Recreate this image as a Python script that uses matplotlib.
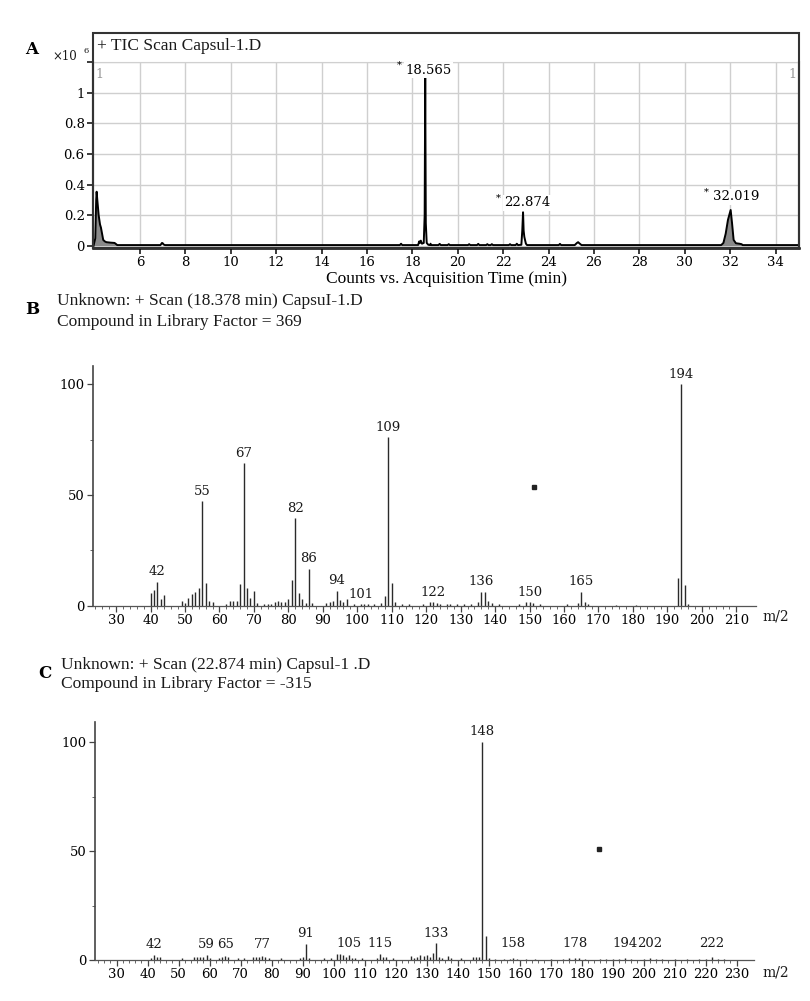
import matplotlib.pyplot as plt
import numpy as np
from matplotlib.patches import Rectangle

# ---- A: TIC chromatogram (x10^6 counts vs minutes)
tic_time = [3.95, 4.03, 4.07, 4.09, 4.12, 4.18, 4.24, 4.28, 4.33, 4.38, 4.45, 4.52, 4.7, 4.88, 4.95, 5.0,
            6.9, 6.97, 7.0, 7.04, 7.1,
            17.45, 17.5, 17.55,
            18.25, 18.3, 18.33, 18.37, 18.42, 18.5, 18.54, 18.565, 18.59, 18.63, 18.7,
            18.78, 18.8, 18.82, 19.15, 19.2, 19.25, 19.55, 19.6, 19.65,
            20.45, 20.5, 20.55, 20.85, 20.9, 20.95, 21.25, 21.3, 21.35, 21.45, 21.5, 21.55,
            22.25, 22.3, 22.35, 22.55, 22.6, 22.65, 22.8, 22.84, 22.874, 22.9, 22.93, 22.96, 23.0, 23.05,
            24.45, 24.5, 24.55, 25.15, 25.25, 25.3, 25.35, 25.45,
            31.6, 31.7, 31.8, 31.9, 32.019, 32.08, 32.15, 32.25, 32.4, 32.5, 32.55, 35.1]
tic_counts = [0.0, 0.05, 0.3, 0.354, 0.3, 0.2, 0.14, 0.12, 0.08, 0.04, 0.03, 0.025, 0.022, 0.02, 0.012, 0.006,
              0.006, 0.02, 0.018, 0.01, 0.006,
              0.006, 0.015, 0.006,
              0.006, 0.03, 0.02, 0.035, 0.015, 0.02, 0.2, 1.099, 0.15, 0.02, 0.008,
              0.006, 0.015, 0.006, 0.006, 0.014, 0.006, 0.006, 0.012, 0.006,
              0.006, 0.012, 0.006, 0.006, 0.014, 0.006, 0.006, 0.012, 0.006, 0.006, 0.012, 0.006,
              0.006, 0.012, 0.006, 0.006, 0.015, 0.006, 0.008, 0.1, 0.22, 0.1, 0.06, 0.04, 0.015, 0.006,
              0.006, 0.014, 0.006, 0.006, 0.02, 0.025, 0.018, 0.006,
              0.006, 0.02, 0.08, 0.17, 0.235, 0.15, 0.04, 0.018, 0.015, 0.012, 0.006, 0.006]
tic_peaks = ['18.565', '22.874', '32.019']
tic_peak_pos = [(18.72, 1.147), (23.08, 0.282), (32.26, 0.321)]

# ---- B: spectrum at 18.378 min
b_mz = [40, 41, 42, 43, 44, 49, 50, 51, 52, 53, 54, 55, 56, 57, 58, 62, 63, 64, 65, 66, 67, 68, 69, 70, 71,
        73, 74, 75, 76, 77, 78, 79, 80, 81, 82, 83, 84, 85, 86, 87, 91, 92, 93, 94, 95, 96, 97, 99,
        101, 102, 103, 105, 107, 108, 109, 110, 111, 113, 115, 119, 121, 122, 123, 124, 126, 127, 129,
        131, 133, 135, 136, 137, 138, 139, 141, 147, 149, 150, 151, 153, 161, 164, 165, 166, 167, 175,
        181, 193, 194, 195, 196]
b_int = [5.6, 7.1, 10.8, 3.0, 4.7, 2.3, 1.4, 3.6, 5.1, 6.3, 7.8, 47.3, 10.4, 2.3, 1.7, 0.8, 2.3, 2.3, 2.3, 9.8,
         64.4, 7.8, 3.3, 6.6, 1.0, 0.6, 0.8, 0.6, 1.5, 2.1, 1.5, 1.8, 3.0, 11.4, 39.7, 5.9, 2.9, 1.0, 16.7,
         1.0, 1.0, 1.5, 2.0, 6.8, 2.6, 1.8, 3.0, 0.8, 0.8, 0.6, 0.8, 0.6, 1.0, 4.4, 76.0, 10.4, 1.7, 0.6,
         0.8, 0.6, 1.5, 1.5, 1.2, 0.8, 0.8, 0.6, 0.8, 0.6, 0.8, 1.5, 6.4, 6.0, 2.0, 1.0, 0.6, 0.8, 1.5,
         1.5, 1.0, 0.6, 0.6, 1.0, 6.4, 1.5, 0.8, 0.5, 0.5, 12.6, 100.0, 9.5, 0.6]
b_labels = [42, 55, 67, 82, 86, 94, 101, 109, 122, 136, 150, 165, 194]
b_label_y = [12.3, 48.8, 65.9, 41.2, 18.2, 8.3, 2.3, 77.5, 3.0, 7.9, 3.0, 7.9, 101.5]

# ---- C: spectrum at 22.874 min
c_mz = [41, 42, 43, 44, 51, 55, 56, 57, 58, 59, 60, 63, 64, 65, 66, 69, 71, 74, 75, 76, 77, 78, 79, 83,
        89, 90, 91, 92, 97, 99, 101, 102, 103, 104, 105, 106, 107, 109, 114, 115, 116, 117, 119,
        125, 126, 127, 128, 129, 130, 131, 132, 133, 134, 135, 137, 138, 141, 145, 146, 147, 148, 149,
        150, 152, 155, 157, 158, 159, 162, 165, 170, 174, 176, 178, 179, 181, 186, 188, 190, 192, 194,
        196, 200, 202, 204, 206, 210, 214, 218, 220, 222, 224, 226]
c_int = [1.0, 2.5, 1.5, 1.2, 1.0, 1.2, 1.5, 1.5, 1.2, 2.5, 1.0, 1.0, 1.5, 2.0, 1.2, 1.0, 1.0, 1.2, 1.5, 1.5,
         2.0, 1.5, 1.0, 0.7, 0.8, 1.2, 7.4, 0.8, 0.8, 1.0, 2.7, 2.7, 2.2, 1.5, 2.5, 1.0, 1.0, 0.8, 1.0,
         2.7, 1.5, 1.2, 0.8, 2.0, 1.0, 1.5, 2.2, 2.0, 2.2, 1.5, 3.2, 7.7, 1.5, 1.0, 1.8, 1.0, 0.8, 1.2,
         1.5, 1.5, 100.0, 11.0, 0.8, 0.6, 0.6, 0.6, 0.8, 0.6, 0.6, 0.6, 0.5, 0.6, 0.8, 1.0, 0.8, 0.6,
         0.6, 0.6, 0.6, 0.6, 0.8, 0.6, 0.6, 0.8, 0.6, 0.5, 0.5, 0.5, 0.6, 0.6, 1.5, 0.6, 0.5]
c_labels = [42, 59, 65, 77, 91, 105, 115, 133, 148, 158, 178, 194, 202, 222]
c_label_y = [4.3, 4.3, 4.3, 4.0, 9.2, 4.5, 4.5, 9.2, 101.8, 4.5, 4.5, 4.5, 4.5, 4.5]

SERIF = 'DejaVu Serif'
NARROW = 'Liberation Serif'
INK = '#1a1a1a'

fig = plt.figure(figsize=(8.1, 10.01), dpi=100)


def fx(px):
    return px / 810


def fy(py):
    return 1 - py / 1001


# ---------------- panel A
axA = fig.add_axes([fx(93), fy(248), fx(706), 186 / 1001])
axA.set_xlim(3.93, 35.03)
axA.set_ylim(-0.013, 1.2)
t = np.array(tic_time)
c = np.array(tic_counts)
axA.fill_between(t, 0, c, where=(t < 5.05) | (t > 31.5), color='#8a8a8a', lw=0)
axA.plot(t, c, color='black', lw=1.4)
axA.set_xticks(range(6, 35, 2))
axA.set_yticks([0, 0.2, 0.4, 0.6, 0.8, 1.0, 1.2])
axA.set_yticklabels(['0', '0.2', '0.4', '0.6', '0.8', '1', ''])
axA.grid(True, color='#cfcfcf', lw=1)
axA.set_axisbelow(True)
axA.tick_params(direction='out', length=4, width=1.2, color=INK, labelsize=9.5, pad=2)
for lab in axA.get_xticklabels() + axA.get_yticklabels():
    lab.set_fontfamily(SERIF)
axA.spines['top'].set_color('#d0d0d0')
axA.spines['bottom'].set_linewidth(1.8)
axA.spines['left'].set_linewidth(1.5)
axA.spines['right'].set_linewidth(1.5)
axA.set_xlabel('Counts vs. Acquisition Time (min)', fontfamily=NARROW, fontsize=12.5, labelpad=1)
for name, (px, py) in zip(tic_peaks, tic_peak_pos):
    axA.text(px, py, name, ha='center', va='center', fontfamily=SERIF, fontsize=9.5,
             bbox=dict(facecolor='white', edgecolor='none', pad=1))
    axA.text(px - 1.3, py + 0.03, '*', ha='center', va='center', fontfamily=SERIF, fontsize=7)
axA.text(4.2, 1.12, '1', color='#999999', fontfamily=SERIF, fontsize=9, ha='center', va='center')
axA.text(34.75, 1.12, '1', color='#999999', fontfamily=SERIF, fontsize=9, ha='center', va='center')

# title strip box
fig.patches.append(Rectangle((fx(93), fy(248)), fx(706), 215 / 1001, transform=fig.transFigure,
                             fill=False, edgecolor='#333333', lw=1.5))
fig.text(fx(97), fy(46), '+ TIC Scan Capsul-1.D', fontfamily=NARROW, fontsize=12.5, va='center', color=INK)
fig.text(fx(32), fy(50), 'A', fontfamily=SERIF, fontweight='bold', fontsize=12, ha='center', va='center')
fig.text(fx(52), fy(56), '×10', fontfamily=SERIF, fontsize=8.5, va='center', color=INK)
fig.text(fx(83), fy(51), '6', fontfamily=SERIF, fontsize=6, va='center', color=INK)


# ---------------- spectra
def spectrum(rect, mz, inten, labels, label_y, xlim, ytop, xmax, dot):
    ax = fig.add_axes(rect)
    ax.vlines(mz, 0, inten, color='#2a2a2a', lw=1.0)
    ax.set_xlim(*xlim)
    ax.set_ylim(0, ytop)
    for m, y in zip(labels, label_y):
        ax.text(m, y, str(m), ha='center', va='bottom', fontfamily=SERIF, fontsize=9.5, color=INK)
    ax.plot([dot[0]], [dot[1]], 's', color='#222222', ms=3)
    ax.spines['top'].set_visible(False)
    ax.spines['right'].set_visible(False)
    ax.spines['left'].set_linewidth(1.2)
    ax.spines['left'].set_color('#444444')
    ax.spines['bottom'].set_linewidth(0.9)
    ax.spines['bottom'].set_color('#555555')
    ax.set_xticks(range(30, xmax + 1, 10))
    ax.set_xticks(range(24, xmax + 1, 2), minor=True)
    ax.set_yticks([0, 50, 100])
    ax.set_yticks([25, 75], minor=True)
    ax.tick_params(which='major', direction='out', length=4, width=0.9, color='#444444',
                   labelsize=9.5, pad=2)
    ax.tick_params(which='minor', direction='out', length=2.5, width=0.7, color='#666666')
    for lab in ax.get_xticklabels() + ax.get_yticklabels():
        lab.set_fontfamily(SERIF)
    return ax


axB = spectrum([fx(93.3), fy(605.7), fx(663), 239.7 / 1001], b_mz, b_int, b_labels, b_label_y,
               (23.4, 215.8), 108.3, 210, (151.4, 53.7))
axC = spectrum([fx(95), fy(960), fx(659), 237.7 / 1001], c_mz, c_int, c_labels, c_label_y,
               (23.0, 235.6), 109.2, 230, (185.7, 50.9))

fig.text(fx(776), fy(617), 'm/2', fontfamily=SERIF, fontsize=10, ha='center', va='center', color=INK)
fig.text(fx(776), fy(973), 'm/2', fontfamily=SERIF, fontsize=10, ha='center', va='center', color=INK)

fig.text(fx(32), fy(310), 'B', fontfamily=SERIF, fontweight='bold', fontsize=12, ha='center', va='center')
fig.text(fx(57), fy(301), 'Unknown: + Scan (18.378 min) CapsuI-1.D', fontfamily=NARROW, fontsize=12.5,
         va='center', color=INK)
fig.text(fx(57), fy(322), 'Compound in Library Factor = 369', fontfamily=NARROW, fontsize=12.5,
         va='center', color=INK)

fig.text(fx(45), fy(674), 'C', fontfamily=SERIF, fontweight='bold', fontsize=12, ha='center', va='center')
fig.text(fx(61), fy(665), 'Unknown: + Scan (22.874 min) Capsul-1 .D', fontfamily=NARROW, fontsize=12.5,
         va='center', color=INK)
fig.text(fx(61), fy(684), 'Compound in Library Factor = -315', fontfamily=NARROW, fontsize=12.5,
         va='center', color=INK)

fig.savefig('out.png', dpi=100)
